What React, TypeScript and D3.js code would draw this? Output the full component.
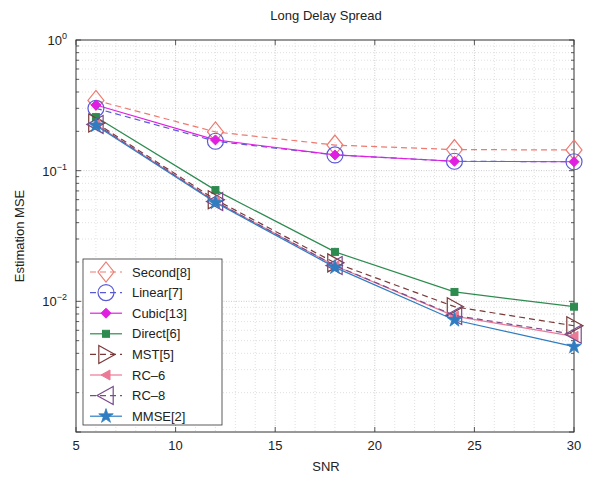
import React from "react";
import * as d3 from "d3";

const snr = [6, 12, 18, 24, 30];

const second8 = [0.345, 0.198, 0.157, 0.145, 0.144];
const linear7 = [0.3, 0.168, 0.132, 0.118, 0.117];
const cubic13 = [0.318, 0.172, 0.132, 0.118, 0.117];
const direct6 = [0.257, 0.071, 0.0239, 0.0118, 0.0091];
const mst5 = [0.232, 0.06, 0.0197, 0.0091, 0.0065];
const rc6 = [0.226, 0.058, 0.0187, 0.0077, 0.0054];
const rc8 = [0.226, 0.058, 0.0188, 0.0078, 0.0056];
const mmse2 = [0.222, 0.057, 0.0182, 0.0072, 0.0045];

const seriesNames = ["Second[8]", "Linear[7]", "Cubic[13]", "Direct[6]", "MST[5]", "RC\u20136", "RC\u20138", "MMSE[2]"];
const seriesValues = [second8, linear7, cubic13, direct6, mst5, rc6, rc8, mmse2];
const seriesColors = ["#ee7a70", "#5a5ad8", "#e020e0", "#2e8b50", "#7a3a3a", "#ec7a96", "#7a4a8c", "#2f7dc0"];
const seriesDash = ["6,4", "6,4", null, null, "6,4", null, "6,4", null];
const seriesMarker = ["diamondOpen", "circleOpen", "diamondFilled", "squareFilled", "triRightOpen", "triLeftFilled", "triLeftOpen", "starFilled"];

const xTicks = [5, 10, 15, 20, 25, 30];
const yDecades = [0, -1, -2];

const W = 590, H = 478;
const m = { left: 76, right: 574, top: 40, bottom: 432 };

function Marker({ kind, x, y, color }: { kind: string; x: number; y: number; color: string }) {
  const sw = 1.2;
  switch (kind) {
    case "diamondOpen": {
      const r = 10;
      return <path d={`M${x},${y - r}L${x + r * 0.8},${y}L${x},${y + r}L${x - r * 0.8},${y}Z`} fill="none" stroke={color} strokeWidth={sw} />;
    }
    case "circleOpen":
      return <circle cx={x} cy={y} r={8} fill="none" stroke={color} strokeWidth={sw} />;
    case "diamondFilled": {
      const r = 5;
      return <path d={`M${x},${y - r}L${x + r},${y}L${x},${y + r}L${x - r},${y}Z`} fill={color} stroke={color} strokeWidth={1} />;
    }
    case "squareFilled":
      return <rect x={x - 3.5} y={y - 3.5} width={7} height={7} fill={color} stroke={color} />;
    case "triRightOpen": {
      const r = 9;
      return <path d={`M${x + r},${y}L${x - r * 0.8},${y - r}L${x - r * 0.8},${y + r}Z`} fill="none" stroke={color} strokeWidth={sw} />;
    }
    case "triLeftFilled": {
      const r = 5;
      return <path d={`M${x - r},${y}L${x + r * 0.8},${y - r}L${x + r * 0.8},${y + r}Z`} fill={color} stroke={color} />;
    }
    case "triLeftOpen": {
      const r = 9;
      return <path d={`M${x - r},${y}L${x + r * 0.8},${y - r}L${x + r * 0.8},${y + r}Z`} fill="none" stroke={color} strokeWidth={sw} />;
    }
    case "starFilled": {
      const sym = d3.symbol().type(d3.symbolStar).size(65)();
      return <path d={sym || ""} transform={`translate(${x},${y})`} fill={color} stroke={color} strokeWidth={0.8} />;
    }
  }
  return null;
}

export default function App() {
  const x = d3.scaleLinear().domain([5, 30]).range([m.left, m.right]);
  const y = d3.scaleLog().domain([1e-3, 1]).range([m.bottom, m.top]);

  const line = d3.line<number>().x((_, i) => x(snr[i])).y((d) => y(d));

  const minorX = d3.range(6, 30).filter((v) => v % 5 !== 0);
  const minorY: number[] = [];
  for (let e = -3; e < 0; e++) for (let k = 2; k <= 9; k++) minorY.push(k * Math.pow(10, e));
  const majorY = [1e-3, 1e-2, 1e-1, 1];

  const font = "'Liberation Sans', Arial, sans-serif";
  const legX = 83, legY = 259, legW = 139, legH = 166;
  const legRow = (i: number) => 272 + i * 20.6;

  return (
    <svg width={W} height={H} style={{ position: "absolute", left: 0, top: 0 }} fontFamily={font}>
      <rect width={W} height={H} fill="#fff" />
      <text x={326} y={20} textAnchor="middle" fontSize={13} fill="#222">Long Delay Spread</text>

      {/* minor grid */}
      <g stroke="#cdcdcd" strokeWidth={0.6} strokeDasharray="1,2">
        {minorX.map((v) => <line key={"mx" + v} x1={x(v)} x2={x(v)} y1={m.top} y2={m.bottom} />)}
        {minorY.map((v) => <line key={"my" + v} x1={m.left} x2={m.right} y1={y(v)} y2={y(v)} />)}
      </g>
      {/* major grid */}
      <g stroke="#b4b4b4" strokeWidth={0.7} strokeDasharray="1,1.5">
        {xTicks.slice(1, -1).map((v) => <line key={"gx" + v} x1={x(v)} x2={x(v)} y1={m.top} y2={m.bottom} />)}
        {majorY.slice(1, -1).map((v) => <line key={"gy" + v} x1={m.left} x2={m.right} y1={y(v)} y2={y(v)} />)}
      </g>

      {/* axes box and ticks */}
      <rect x={m.left} y={m.top} width={m.right - m.left} height={m.bottom - m.top} fill="none" stroke="#333" strokeWidth={1} />
      <g stroke="#333" strokeWidth={0.8}>
        {xTicks.map((v) => (
          <g key={"tx" + v}>
            <line x1={x(v)} x2={x(v)} y1={m.bottom} y2={m.bottom - 5} />
            <line x1={x(v)} x2={x(v)} y1={m.top} y2={m.top + 5} />
          </g>
        ))}
        {majorY.map((v) => (
          <g key={"ty" + v}>
            <line x1={m.left} x2={m.left + 5} y1={y(v)} y2={y(v)} />
            <line x1={m.right} x2={m.right - 5} y1={y(v)} y2={y(v)} />
          </g>
        ))}
        {minorY.map((v) => (
          <g key={"tmy" + v}>
            <line x1={m.left} x2={m.left + 3} y1={y(v)} y2={y(v)} />
            <line x1={m.right} x2={m.right - 3} y1={y(v)} y2={y(v)} />
          </g>
        ))}
      </g>

      {xTicks.map((v) => (
        <text key={"lx" + v} x={x(v)} y={m.bottom + 18} textAnchor="middle" fontSize={13} fill="#222">{v}</text>
      ))}
      {yDecades.map((e) => (
        <g key={"ly" + e}>
          <text x={m.left - 9} y={y(Math.pow(10, e)) + 5} textAnchor="end" fontSize={13} fill="#222">
            10<tspan dy={-6} fontSize={9}>{e === 0 ? "0" : "\u2212" + (-e)}</tspan>
          </text>
        </g>
      ))}
      <text x={326} y={471} textAnchor="middle" fontSize={13} fill="#222">SNR</text>
      <text transform={`translate(24,${236}) rotate(-90)`} textAnchor="middle" fontSize={13} fill="#222">Estimation MSE</text>

      {/* series */}
      {seriesValues.map((vals, si) => (
        <g key={"s" + si}>
          <path d={line(vals) || ""} fill="none" stroke={seriesColors[si]} strokeWidth={1.2} strokeDasharray={seriesDash[si] || undefined} />
          {vals.map((v, i) => (
            <Marker key={i} kind={seriesMarker[si]} x={x(snr[i])} y={y(v)} color={seriesColors[si]} />
          ))}
        </g>
      ))}

      {/* legend */}
      <rect x={legX} y={legY} width={legW} height={legH} fill="#fff" stroke="#333" strokeWidth={0.8} />
      {seriesNames.map((name, si) => (
        <g key={"lg" + si}>
          <line x1={90} x2={122} y1={legRow(si)} y2={legRow(si)} stroke={seriesColors[si]} strokeWidth={1.2} strokeDasharray={seriesDash[si] || undefined} />
          <Marker kind={seriesMarker[si]} x={106} y={legRow(si)} color={seriesColors[si]} />
          <text x={132} y={legRow(si) + 4.5} fontSize={13} fill="#222">{name}</text>
        </g>
      ))}
    </svg>
  );
}
